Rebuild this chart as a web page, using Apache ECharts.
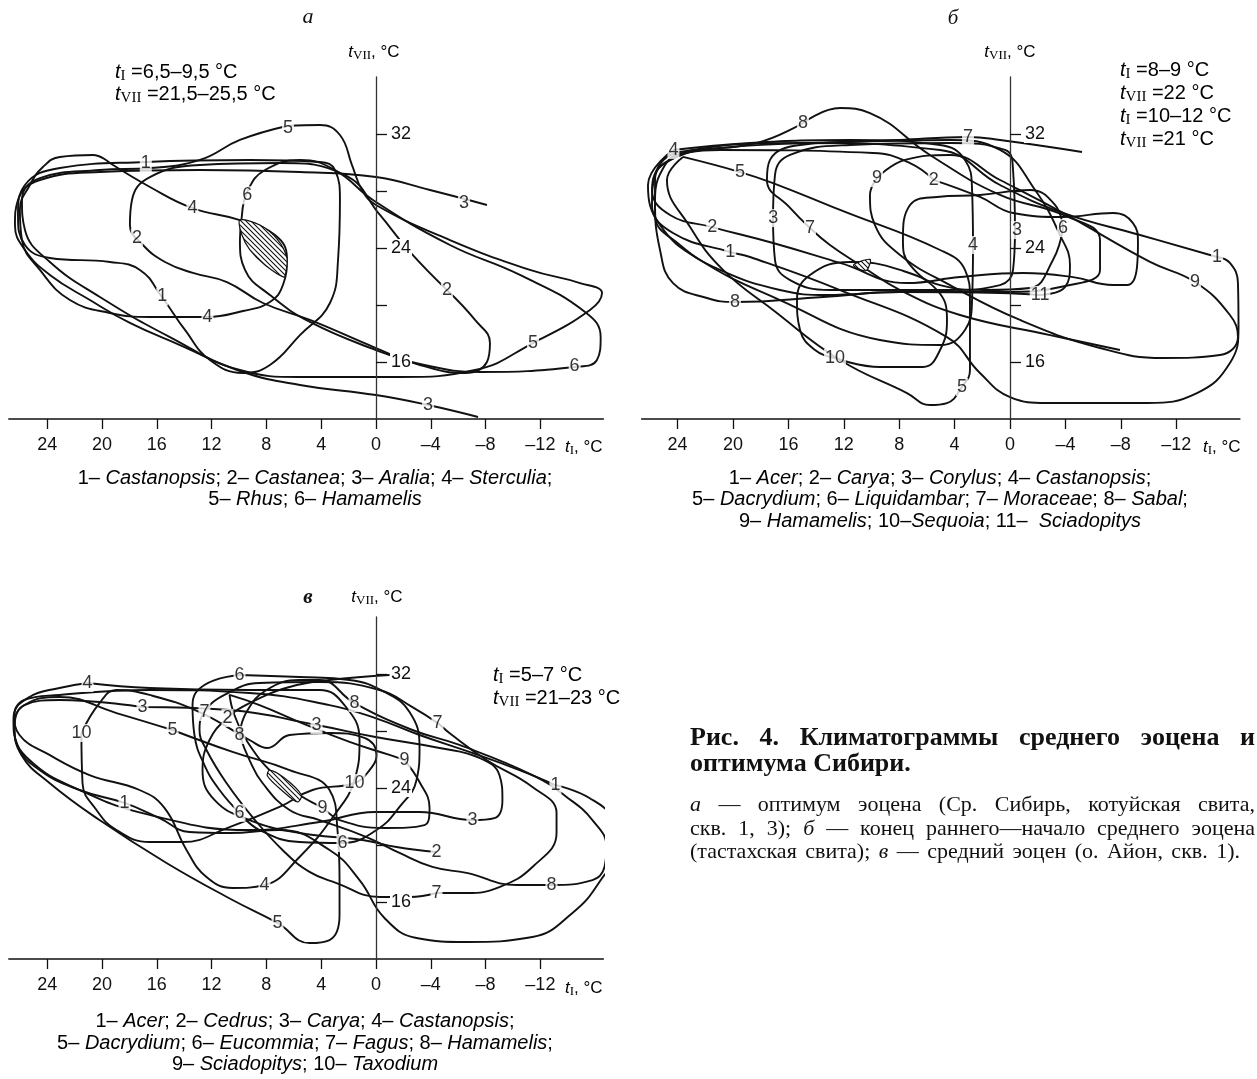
<!DOCTYPE html>
<html>
<head>
<meta charset="utf-8">
<script src="https://cdn.jsdelivr.net/npm/echarts@6.0.0/dist/echarts.min.js"></script>
<style>
  html, body { margin: 0; padding: 0; background: #fff; }
  #chart { width: 1257px; height: 1079px; }
</style>
</head>
<body>
<div id="chart"></div>
<script>
// ---- axis ticks ----
const xTicks = [24, 20, 16, 12, 8, 4, 0, -4, -8, -12];
const yTicks = [16, 20, 24, 28, 32];
const yLabels = [16, 24, 32];

// ---- panel a: [t_I, t_VII] ----
const a1 = [[9.20,30.18],[4.09,30.04],[2.99,29.47],[2.63,27.37],[2.77,23.16],[3.36,20.14],[5.55,17.89],[7.74,15.79],[9.71,15.23],[12.12,16.14],[13.94,18.25],[15.62,20.56],[17.23,22.46],[19.42,23.02],[23.80,23.30],[25.62,24.21],[26.13,26.32],[25.62,28.42],[23.07,29.61],[16.79,30.04]];
const a2 = [[-5.18,21.05],[-7.23,18.95],[-8.32,17.33],[-8.10,16.0],[-6.50,15.23],[-3.21,15.79],[0,16.98],[4.82,18.95],[8.25,20.14],[10.88,21.61],[13.36,22.25],[15.40,23.02],[17.01,24.21],[17.96,25.61],[17.81,27.37],[16.50,28.98],[12.85,29.82],[7.01,29.96],[2.26,29.12],[-0.29,26.32],[-2.48,23.72]];
const a3 = [[-8.10,27.02],[-3.94,28.07],[0,28.98],[5.55,29.33],[12.85,29.47],[20.15,29.33],[24.53,28.77],[26.13,27.37],[26.35,25.61],[25.62,23.86],[23.80,22.11],[20.88,20.35],[17.96,18.74],[14.31,17.19],[9.71,15.30],[5.55,14.39],[0,13.68],[-3.80,12.98],[-7.45,12.14]];
const a4 = [[19.42,29.96],[16.50,28.28],[13.43,26.81],[9.93,25.96],[7.37,24.91],[6.50,23.30],[6.79,21.40],[7.74,20.21],[9.71,19.58],[12.34,19.16],[16.50,19.16],[19.42,19.44],[22.34,20.35],[24.53,22.46],[25.84,24.56],[25.99,26.67],[25.26,28.42],[24.31,29.68],[23.07,30.39],[20.66,30.53]];
const a5 = [[6.50,32.56],[4.09,32.63],[2.63,31.93],[1.75,29.82],[1.02,28.07],[0,27.02],[-5.40,24.56],[-11.24,22.46],[-14.89,21.54],[-16.5,20.84],[-15.62,19.65],[-11.46,17.33],[-7.23,15.44],[-1.75,14.95],[5.55,14.95],[9.93,15.44],[15.04,17.75],[20.15,20.56],[23.80,23.02],[25.62,25.26],[25.84,27.37],[24.53,28.91],[20.15,29.47],[16.50,29.61],[12.85,30.18],[9.93,31.58]];
const a6 = [[9.78,26.32],[9.34,28.07],[8.10,29.47],[5.55,30.18],[2.99,29.47],[0.22,27.37],[-5.40,24.21],[-10.51,22.11],[-15.26,19.51],[-16.4,17.75],[-16.13,16.14],[-14.53,15.65],[-7.59,15.30],[-3.21,15.86],[0,16.84],[4.82,18.81],[7.74,20.70],[9.56,22.46],[9.93,24.56]];
const hatchA = [[9.93,25.96],[8.47,25.61],[7.15,24.56],[6.50,23.30],[6.57,22.32],[6.72,21.96],[8.10,22.81],[9.20,23.86],[9.78,24.91]];
const labelsA = [['1',16.8,29.96],['1',15.6,20.6],['2',17.45,24.7],['2',-5.18,21.05],['3',-6.42,27.16],['3',-3.8,12.98],['4',13.4,26.8],['4',12.3,19.16],['5',6.42,32.42],['5',-11.46,17.33],['6',9.4,27.7],['6',-14.5,15.7]];

// ---- panel б ----
const b1 = [[-14.95,23.37],[-15.88,22.95],[-16.46,21.54],[-16.5,18.46],[-15.88,15.93],[-13.50,13.82],[-9.89,13.12],[-2.67,13.12],[0,13.54],[2.17,15.23],[4.55,17.75],[12.27,21.05],[18.77,23.37],[20.22,23.72],[24.33,25.05],[25.85,27.02],[25.63,29.12],[23.83,30.74],[15.16,31.37],[5.05,30.88],[0.72,28.42],[-3.83,26.46],[-9.39,24.91]];
const b2 = [[5.49,28.77],[2.17,27.58],[-0.22,26.46],[-3.83,26.18],[-7.44,26.46],[-8.88,25.75],[-9.24,24.35],[-9.17,22.67],[-8.45,21.40],[-7.44,21.40],[-4.55,21.96],[-0.94,22.25],[3.61,21.96],[7.44,21.54],[12.27,22.95],[17.11,24.35],[21.52,25.47],[24.55,26.32],[25.85,28.07],[24.91,29.96],[20.94,30.88],[9.89,30.67],[7.22,29.96]];
const b3 = [[17.11,26.11],[16.97,23.16],[15.88,21.75],[13.00,21.05],[4.33,21.05],[0.72,21.40],[-0.22,22.46],[-0.36,25.26],[-0.22,29.47],[0.36,30.88],[4.33,31.37],[11.55,31.23],[15.88,30.53],[16.97,29.12]];
const b4 = [[24.33,30.88],[18.77,31.37],[11.55,31.58],[5.05,31.23],[3.25,30.18],[2.74,28.07],[2.67,24.21],[2.74,20.35],[3.25,18.25],[5.05,17.19],[9.39,17.54],[16.61,20.35],[22.38,23.16],[25.27,25.61],[26.14,28.42]];
const b5 = [[23.61,30.39],[19.49,29.33],[17.11,28.56],[12.27,26.67],[5.05,23.86],[3.25,22.46],[2.89,20.35],[2.89,15.44],[3.47,14.25],[4.55,13.12],[5.78,12.98],[7.44,13.82],[12.27,16.14],[17.11,19.65],[20.72,22.46],[23.10,25.47],[24.77,28.77]];
const b6 = [[-3.83,25.40],[-3.25,27.02],[-1.44,28.07],[2.17,27.72],[5.27,27.58],[7.22,27.02],[7.73,24.56],[7.22,22.81],[5.05,21.40],[1.81,21.05],[-1.44,21.19],[-3.10,23.16]];
const b7 = [[-5.20,30.74],[0.72,31.58],[3.03,31.79],[7.94,31.58],[15.16,31.23],[17.33,30.18],[17.55,28.77],[15.88,26.81],[14.44,25.40],[13.00,24.21],[10.83,22.81],[7.94,21.05],[3.61,19.30],[-2.89,17.89],[-7.94,16.84]];
const b8 = [[14.95,32.77],[12.27,33.82],[10.11,33.47],[5.78,30.53],[0.72,27.72],[-3.83,26.32],[-6.50,24.56],[-6.50,22.46],[-4.33,21.40],[0.72,20.91],[7.94,20.91],[13.50,20.56],[19.86,20.21],[21.88,20.49],[24.33,21.54],[25.27,23.86],[25.63,27.37],[24.91,29.82],[23.61,30.67],[18.27,31.37]];
const b9 = [[9.60,28.91],[7.58,30.18],[4.33,30.53],[0.72,28.77],[-3.83,26.46],[-10.11,23.02],[-13.36,21.61],[-15.88,19.30],[-16.46,17.75],[-15.16,16.49],[-11.05,16.28],[-6.50,16.98],[-0.72,18.95],[4.33,21.40],[7.94,23.51],[9.75,25.61],[10.11,27.72]];
const b10 = [[12.64,16.28],[9.39,15.65],[6.28,15.65],[5.05,16.84],[4.55,18.95],[5.27,21.05],[7.94,22.46],[11.55,23.02],[14.44,22.11],[15.38,20.35],[15.16,18.25],[14.08,16.84]];
const b11 = [[-2.17,20.70],[0.72,20.84],[7.94,20.91],[13.21,20.70],[16.61,21.05],[20.94,22.46],[23.83,24.21],[25.63,26.32],[25.63,28.77],[24.55,30.18],[20.94,31.02],[11.55,31.44],[4.33,31.58],[0.72,30.88],[-1.81,28.07],[-3.61,24.91],[-4.33,22.81],[-3.97,21.26]];
const hatchB = [[11.3,22.8],[10.1,23.2],[10.4,22.4]];
const labelsB = [['1',20.2,23.7],['1',-14.95,23.37],['2',5.5,28.77],['2',21.5,25.47],['3',17.1,26.1],['3',-0.5,25.26],['4',24.3,30.88],['4',2.67,24.21],['5',19.5,29.33],['5',3.47,14.25],['6',-3.83,25.4],['7',3.03,31.79],['7',14.44,25.4],['8',14.95,32.77],['8',19.86,20.21],['9',9.6,28.91],['9',-13.36,21.61],['10',12.64,16.28],['11',-2.17,20.7]];

// ---- panel в ----
const c1 = [[-13.10,24.21],[-15.58,23.30],[-17.19,21.75],[-17.41,19.65],[-16.31,17.40],[-14.34,15.23],[-11.42,13.54],[-6.61,13.19],[-2.96,13.47],[-0.62,14.88],[1.20,17.54],[3.39,19.65],[7.04,21.05],[10.69,20.84],[13.61,20.91],[15.80,21.89],[18.36,22.95],[21.64,23.86],[24.56,25.26],[26.17,27.02],[26.46,28.77],[25.66,30.18],[23.10,30.53],[16.53,30.88],[9.23,30.67],[3.39,29.82],[0.04,28.91],[-3.18,27.72],[-6.82,26.53],[-10.47,25.26]];
const c2 = [[-0.99,31.93],[3.39,31.58],[6.31,31.09],[9.23,29.96],[10.84,28.91],[12.15,27.37],[12.66,25.26],[11.79,23.16],[9.23,21.75],[5.58,20.84],[0.99,20.35],[-1.50,19.86],[-4.42,19.51]];
const c3 = [[17.04,29.68],[10.69,29.47],[4.34,28.42],[0.04,27.58],[-4.64,26.81],[-7.55,26.11],[-9.01,24.91],[-9.23,23.16],[-8.65,21.89],[-7.04,21.75],[-3.18,22.32],[0.04,22.32],[4.12,21.61],[9.23,21.05],[16.53,22.11],[21.64,23.86],[25.29,25.96],[26.39,28.07],[25.66,29.82],[23.10,30.18]];
const c4 = [[21.06,31.37],[16.53,31.02],[9.23,30.88],[4.12,30.88],[2.30,29.82],[1.20,27.37],[1.57,24.56],[3.03,22.11],[5.58,19.16],[8.14,17.19],[10.47,16.98],[12.37,17.75],[13.83,19.65],[15.44,22.60],[17.26,23.86],[20.91,24.91],[23.83,26.32],[26.02,27.72],[26.39,29.12],[25.29,30.39],[23.10,31.02]];
const c5 = [[14.85,28.07],[10.47,26.53],[6.31,25.26],[3.39,23.86],[2.81,21.05],[2.66,17.54],[2.66,15.09],[3.39,13.33],[4.85,13.12],[7.19,14.53],[10.47,16.14],[15.29,18.74],[20.18,21.75],[23.83,24.35],[25.88,26.32],[26.39,28.42],[25.66,29.82],[23.10,30.39],[18.94,29.26]];
const c6 = [[9.96,31.93],[5.58,31.79],[1.93,31.58],[-0.62,30.74],[-2.45,29.33],[-3.18,26.88],[-2.96,24.56],[-1.72,22.67],[-0.04,21.05],[2.45,20.14],[5.58,20.21],[8.50,21.05],[9.96,22.25],[11.42,23.86],[12.52,25.61],[13.25,27.72],[13.39,29.82],[12.52,31.23]];
const c7 = [[-4.42,16.63],[-6.61,16.63],[-9.01,17.05],[-11.42,18.46],[-13.18,20.84],[-13.18,22.25],[-11.42,24.07],[-8.07,25.96],[-5.36,27.86],[-4.49,28.56],[-2.66,29.68],[-0.26,30.88],[4.12,31.44],[8.50,31.37],[11.06,30.53],[12.52,29.33],[12.88,28.07],[12.37,26.67],[10.91,24.35],[9.01,21.96],[6.82,19.65],[4.85,18.11],[2.88,17.33],[-0.26,16.35],[-2.45,16.35]];
const c8 = [[9.96,27.72],[9.45,29.33],[7.99,30.88],[5.58,31.58],[4.12,31.58],[1.57,29.96],[-2.66,28.07],[-6.09,27.02],[-11.42,24.91],[-13.91,23.37],[-15.80,21.75],[-16.82,19.86],[-16.68,18.46],[-15.80,17.54],[-12.81,17.19],[-10.26,17.19],[-6.61,18.04],[-4.12,18.46],[-1.72,19.44],[0.69,20.56],[4.12,21.75],[6.31,22.46],[8.28,24.35],[9.23,25.96]];
const c9 = [[-2.08,25.96],[-3.18,24.42],[-3.91,22.60],[-3.54,21.40],[-0.62,21.19],[2.66,21.75],[3.91,22.60],[5.58,23.51],[7.41,24.91],[9.23,27.02],[10.33,29.12],[10.69,30.53],[8.50,29.82],[5.58,28.63],[1.93,27.23],[-0.99,26.32]];
const c10 = [[21.50,27.86],[21.42,24.35],[20.40,22.46],[18.94,21.05],[16.53,20.21],[14.12,20.21],[10.69,21.26],[7.04,22.67],[4.63,23.86],[1.57,24.35],[0.47,25.26],[-0.04,26.32],[0.84,27.51],[3.39,27.86],[6.31,27.72],[7.92,26.81],[9.23,27.37],[12.88,29.33],[16.53,30.53],[18.94,30.88],[20.18,29.96]];
const hatchC = [[7.77,25.26],[6.68,24.70],[5.44,23.51],[5.73,23.02],[6.90,23.86],[7.92,24.84]];
const labelsC = [['1',18.36,22.95],['1',-13.1,24.21],['2',10.84,28.91],['2',-4.42,19.51],['3',17.04,29.68],['3',4.34,28.42],['3',-7.04,21.75],['4',21.06,31.37],['4',8.14,17.19],['5',14.85,28.07],['5',7.19,14.53],['6',9.96,31.93],['6',9.96,22.25],['6',2.45,20.14],['7',12.52,29.33],['7',-4.49,28.56],['7',-4.42,16.63],['8',9.96,27.72],['8',1.57,29.96],['8',-12.81,17.19],['9',-2.08,25.96],['9',3.91,22.6],['10',21.5,27.86],['10',1.57,24.35]];

const panels = [
  { curves: [a1, a2, a3, a4, a5, a6], open: [a3], hatch: hatchA, labels: labelsA },
  { curves: [b1, b2, b3, b4, b5, b6, b7, b8, b9, b10, b11], open: [b7], hatch: hatchB, labels: labelsB },
  { curves: [c1, c2, c3, c4, c5, c6, c7, c8, c9, c10], open: [c2], hatch: hatchC, labels: labelsC }
];

// hatch pattern
const pc = document.createElement('canvas');
pc.width = 5; pc.height = 5;
const pctx = pc.getContext('2d');
pctx.fillStyle = '#fff';
pctx.fillRect(0, 0, 5, 5);
pctx.strokeStyle = '#111';
pctx.lineWidth = 1.1;
pctx.beginPath();
pctx.moveTo(-1, -1); pctx.lineTo(6, 6);
pctx.moveTo(-1, 4); pctx.lineTo(1, 6);
pctx.moveTo(4, -1); pctx.lineTo(6, 1);
pctx.stroke();

const SANS = '"Liberation Sans", Arial, sans-serif';
const SERIF = '"Liberation Serif", "Times New Roman", serif';

const grids = [
  { left: 8.8, top: 77, width: 594.6, height: 342 },
  { left: 641.6, top: 77, width: 598.3, height: 342 },
  { left: 8.8, top: 617, width: 594.6, height: 342 }
];
const xMax = [26.8, 26.6, 26.8];

const xAxes = grids.map((g, i) => ({
  type: 'value', gridIndex: i, inverse: true, min: -16.6, max: xMax[i],
  splitLine: { show: false },
  axisLine: { onZero: false, lineStyle: { color: '#111', width: 1.5 } },
  axisTick: { customValues: xTicks, length: 10, lineStyle: { color: '#111', width: 1.3 } },
  axisLabel: {
    customValues: xTicks, margin: 17, color: '#111', fontSize: 18, fontFamily: SANS,
    formatter: v => v < 0 ? '–' + Math.abs(v) : String(v)
  }
}));

// y axis sits on t_I = 0: shift it into the grid by the width left of zero
const yAxes = grids.map((g, i) => ({
  type: 'value', gridIndex: i, min: 12, max: 36, position: 'left',
  offset: -(g.width * xMax[i] / (xMax[i] + 16.6)),
  splitLine: { show: false },
  axisLine: { onZero: false, lineStyle: { color: '#333', width: 1.3 } },
  axisTick: { customValues: yTicks, inside: true, length: 11, lineStyle: { color: '#111', width: 1.3 } },
  axisLabel: {
    customValues: yLabels, inside: true, margin: 14, color: '#111', fontSize: 18, fontFamily: SANS,
    backgroundColor: '#fff', padding: [0, 1]
  },
  z: 4
}));

const series = [];
panels.forEach((p, i) => {
  p.curves.forEach(c => {
    const closed = p.open.indexOf(c) < 0;
    series.push({
      type: 'line', xAxisIndex: i, yAxisIndex: i,
      data: closed ? c.concat([c[0]]) : c,
      smooth: 0.45, symbol: 'none', clip: false, silent: true,
      lineStyle: { color: '#111', width: 1.9 }, z: 2
    });
  });
  series.push({
    type: 'custom', xAxisIndex: i, yAxisIndex: i, data: [p.hatch[0]], z: 3, silent: true,
    renderItem: (params, api) => ({
      type: 'polygon',
      shape: { points: p.hatch.map(pt => api.coord(pt)), smooth: 0.3 },
      style: { fill: { image: pc, repeat: 'repeat' }, stroke: '#111', lineWidth: 1.2 }
    })
  });
  series.push({
    type: 'scatter', xAxisIndex: i, yAxisIndex: i, symbolSize: 1, z: 5, silent: true,
    itemStyle: { color: 'rgba(0,0,0,0)' },
    data: p.labels.map(l => ({ name: l[0], value: [l[1], l[2]] })),
    label: {
      show: true, position: 'inside', formatter: '{b}', color: '#000',
      fontSize: 18, fontFamily: SANS, backgroundColor: '#fff', padding: [0, 1]
    }
  });
});

// ---- texts ----
const rich = {
  t: { fontFamily: SANS, fontStyle: 'italic', fontSize: 17, color: '#111' },
  s: { fontFamily: SERIF, fontSize: 13, color: '#111', padding: [8, 0, 0, 0] },
  n: { fontFamily: SANS, fontSize: 17, color: '#111' },
  T: { fontFamily: SANS, fontStyle: 'italic', fontSize: 20, color: '#111' },
  S: { fontFamily: SERIF, fontSize: 15, color: '#111', padding: [9, 0, 0, 0] },
  N: { fontFamily: SANS, fontSize: 20, color: '#111' },
  i: { fontFamily: SANS, fontStyle: 'italic', fontSize: 20, color: '#111' },
  r: { fontFamily: SANS, fontSize: 20, color: '#111' }
};
function txt(x, y, text, align) {
  return { type: 'text', x: x, y: y, z: 10, style: { text: text, rich: rich, align: align || 'left', verticalAlign: 'middle' } };
}
function plain(x, y, text, font, align) {
  return { type: 'text', x: x, y: y, z: 10, style: { text: text, font: font, fill: '#111', align: align || 'left', verticalAlign: 'middle' } };
}
// justified line: words are [text, font]
const mctx = document.createElement('canvas').getContext('2d');
function justify(x0, x1, y, words) {
  const widths = words.map(w => { mctx.font = w[1]; return mctx.measureText(w[0]).width; });
  const total = widths.reduce((s, v) => s + v, 0);
  const gap = (x1 - x0 - total) / (words.length - 1);
  let x = x0;
  return words.map((w, k) => {
    const el = plain(x, y, w[0], w[1]);
    x += widths[k] + gap;
    return el;
  });
}
const FB = 'bold 26px ' + SERIF;
const FS = '22px ' + SERIF;
const FI = 'italic 22px ' + SERIF;
const cap1 = ['Рис.', '4.', 'Климатограммы', 'среднего', 'эоцена', 'и'].map(w => [w, FB]);
const cap3 = [['а', FI], ['—', FS], ['оптимум', FS], ['эоцена', FS], ['(Ср.', FS], ['Сибирь,', FS], ['котуйская', FS], ['свита,', FS]];
const cap4 = [['скв.', FS], ['1,', FS], ['3);', FS], ['б', FI], ['—', FS], ['конец', FS], ['раннего—начало', FS], ['среднего', FS], ['эоцена', FS]];
const cap5 = [['(тастахская', FS], ['свита);', FS], ['в', FI], ['—', FS], ['средний', FS], ['эоцен', FS], ['(о.', FS], ['Айон,', FS], ['скв.', FS], ['1).', FS]];

const graphics = [
  plain(308, 17, 'а', 'italic 22px ' + SERIF, 'center'),
  plain(953, 18, 'б', 'italic 21px ' + SERIF, 'center'),
  plain(308, 598, 'в', 'italic bold 21px ' + SERIF, 'center'),
  txt(374, 52, '{t|t}{s|VII}{n|, °C}', 'center'),
  txt(1010, 52, '{t|t}{s|VII}{n|, °C}', 'center'),
  txt(377, 597, '{t|t}{s|VII}{n|, °C}', 'center'),
  txt(565, 447, '{t|t}{s|I}{n|, °C}'),
  txt(1203, 447, '{t|t}{s|I}{n|, °C}'),
  txt(565, 988, '{t|t}{s|I}{n|, °C}'),
  txt(115, 72, '{T|t}{S|I}{N| =6,5–9,5 °C}'),
  txt(115, 94, '{T|t}{S|VII}{N| =21,5–25,5 °C}'),
  txt(1120, 70, '{T|t}{S|I}{N| =8–9 °C}'),
  txt(1120, 93, '{T|t}{S|VII}{N| =22 °C}'),
  txt(1120, 116, '{T|t}{S|I}{N| =10–12 °C}'),
  txt(1120, 139, '{T|t}{S|VII}{N| =21 °C}'),
  txt(493, 675, '{T|t}{S|I}{N| =5–7 °C}'),
  txt(493, 698, '{T|t}{S|VII}{N| =21–23 °C}'),
  // legends
  txt(315, 478, '{r|1– }{i|Castanopsis}{r|; 2– }{i|Castanea}{r|; 3– }{i|Aralia}{r|; 4– }{i|Sterculia}{r|;}', 'center'),
  txt(315, 499, '{r|5– }{i|Rhus}{r|; 6– }{i|Hamamelis}', 'center'),
  txt(940, 478, '{r|1– }{i|Acer}{r|; 2– }{i|Carya}{r|; 3– }{i|Corylus}{r|; 4– }{i|Castanopsis}{r|;}', 'center'),
  txt(940, 499, '{r|5– }{i|Dacrydium}{r|; 6– }{i|Liquidambar}{r|; 7– }{i|Moraceae}{r|; 8– }{i|Sabal}{r|;}', 'center'),
  txt(940, 521, '{r|9– }{i|Hamamelis}{r|; 10–}{i|Sequoia}{r|; 11–  }{i|Sciadopitys}', 'center'),
  txt(305, 1021, '{r|1– }{i|Acer}{r|; 2– }{i|Cedrus}{r|; 3– }{i|Carya}{r|; 4– }{i|Castanopsis}{r|;}', 'center'),
  txt(305, 1043, '{r|5– }{i|Dacrydium}{r|; 6– }{i|Eucommia}{r|; 7– }{i|Fagus}{r|; 8– }{i|Hamamelis}{r|;}', 'center'),
  txt(305, 1064, '{r|9– }{i|Sciadopitys}{r|; 10– }{i|Taxodium}', 'center'),
  plain(690, 764, 'оптимума Сибири.', FB)
].concat(
  justify(690, 1255, 738, cap1),
  justify(690, 1255, 805, cap3),
  justify(690, 1255, 829, cap4),
  justify(690, 1240, 852, cap5)
);

const chart = echarts.init(document.getElementById('chart'), null, { renderer: 'canvas' });
chart.setOption({
  animation: false,
  backgroundColor: '#fff',
  grid: grids,
  xAxis: xAxes,
  yAxis: yAxes,
  series: series,
  graphic: graphics
});
</script>
</body>
</html>
